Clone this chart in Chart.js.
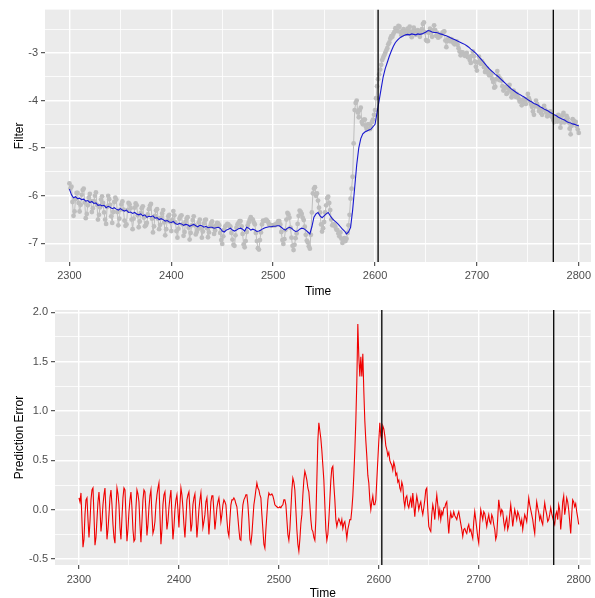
<!DOCTYPE html>
<html lang="en">
<head>
<meta charset="utf-8">
<title>Filter and prediction error</title>
<script src="https://cdn.jsdelivr.net/npm/chart.js"></script>
<style>
    html, body { margin: 0; padding: 0; background: #fff; overflow: hidden; }
    #top { position: absolute; left: 0; top: 0; }
    #bottom { position: absolute; left: 0; top: 300px; }
</style>
</head>
<body>
<canvas id="top" width="595" height="300"></canvas>
<canvas id="bottom" width="595" height="305"></canvas>

<script>
    // all series start at time 2300 and end at 2800
    var tStart = 2300;
    var rawStep = 1;   // observed: every time unit
    var filtStep = 2;  // filter: every 2 units
    var errStep = 1;   // prediction error: every time unit

    // observed series (grey dots)
    var raw = [
        -5.74, -5.84, -5.81, -6.13, -6.42, -6.33, -6.07, -5.94, -5.94, -6.15,
        -6.33, -6.19, -5.98, -5.88, -5.85, -6.14, -6.47, -6.38, -6.20, -6.04,
        -5.96, -6.11, -6.34, -6.26, -6.11, -6.00, -5.93, -6.19, -6.50, -6.40,
        -6.24, -6.08, -6.01, -6.15, -6.35, -6.50, -6.59, -6.23, -6.00, -6.07,
        -6.19, -6.43, -6.57, -6.34, -6.13, -6.04, -6.08, -6.34, -6.62, -6.48,
        -6.29, -6.18, -6.12, -6.29, -6.52, -6.63, -6.60, -6.30, -6.15, -6.18,
        -6.26, -6.50, -6.70, -6.48, -6.25, -6.16, -6.20, -6.41, -6.66, -6.54,
        -6.36, -6.26, -6.22, -6.46, -6.64, -6.62, -6.57, -6.39, -6.28, -6.21,
        -6.17, -6.48, -6.77, -6.64, -6.42, -6.31, -6.28, -6.48, -6.70, -6.61,
        -6.46, -6.37, -6.30, -6.56, -6.83, -6.70, -6.52, -6.43, -6.40, -6.55,
        -6.74, -6.50, -6.32, -6.41, -6.56, -6.74, -6.88, -6.69, -6.48, -6.43,
        -6.41, -6.60, -6.84, -6.76, -6.55, -6.48, -6.45, -6.67, -6.92, -6.78,
        -6.62, -6.51, -6.43, -6.62, -6.81, -6.76, -6.70, -6.56, -6.50, -6.68,
        -6.88, -6.75, -6.58, -6.51, -6.50, -6.68, -6.87, -6.77, -6.64, -6.58,
        -6.54, -6.65, -6.80, -6.73, -6.62, -6.57, -6.58, -6.62, -6.78, -6.93,
        -7.01, -6.85, -6.71, -6.64, -6.62, -6.59, -6.60, -6.63, -6.65, -6.78,
        -6.92, -7.03, -7.05, -6.83, -6.67, -6.60, -6.57, -6.53, -6.53, -6.64,
        -6.80, -7.02, -7.08, -6.95, -6.76, -6.62, -6.56, -6.50, -6.45, -6.49,
        -6.50, -6.56, -6.60, -6.78, -6.95, -7.10, -7.13, -6.93, -6.77, -6.60,
        -6.52, -6.53, -6.52, -6.50, -6.52, -6.55, -6.60, -6.61, -6.62, -6.62,
        -6.62, -6.61, -6.62, -6.59, -6.58, -6.53, -6.53, -6.60, -6.76, -6.93,
        -7.01, -6.91, -6.72, -6.50, -6.36, -6.39, -6.46, -6.67, -6.88, -7.05,
        -7.14, -7.03, -6.89, -6.79, -6.59, -6.42, -6.31, -6.34, -6.38, -6.46,
        -6.51, -6.65, -6.82, -6.94, -6.98, -7.06, -7.11, -6.82, -6.35, -5.95,
        -5.85, -5.82, -6.00, -5.95, -6.10, -6.25, -6.35, -6.60, -6.75, -6.68,
        -6.55, -6.35, -6.20, -6.05, -6.02, -6.15, -6.30, -6.50, -6.62, -6.60,
        -6.61, -6.65, -6.71, -6.72, -6.79, -6.85, -6.77, -6.90, -6.99, -6.92,
        -6.89, -6.95, -6.90, -6.78, -6.62, -6.40, -6.06, -5.85, -5.60, -4.90,
        -4.20, -4.05, -4.00, -4.25, -4.35, -4.20, -4.15, -4.45, -4.50, -4.40,
        -4.40, -4.55, -4.60, -4.50, -4.50, -4.60, -4.55, -4.45, -4.40, -4.30,
        -4.20, -3.95, -3.70, -3.55, -3.45, -3.35, -3.25, -3.15, -3.10, -3.05,
        -3.00, -2.95, -2.90, -2.82, -2.78, -2.70, -2.65, -2.66, -2.60, -2.56,
        -2.48, -2.53, -2.54, -2.43, -2.45, -2.57, -2.63, -2.53, -2.50, -2.58,
        -2.60, -2.53, -2.49, -2.60, -2.45, -2.56, -2.67, -2.55, -2.47, -2.53,
        -2.62, -2.56, -2.52, -2.60, -2.66, -2.58, -2.50, -2.39, -2.36, -2.57,
        -2.73, -2.75, -2.75, -2.58, -2.49, -2.55, -2.66, -2.52, -2.42, -2.52,
        -2.64, -2.58, -2.68, -2.63, -2.65, -2.60, -2.59, -2.56, -2.55, -2.74,
        -2.88, -2.75, -2.69, -2.75, -2.75, -2.71, -2.76, -2.79, -2.82, -2.78,
        -2.76, -2.83, -2.90, -2.97, -3.05, -2.99, -2.99, -3.03, -3.06, -3.02,
        -3.00, -3.09, -3.08, -3.15, -3.21, -3.06, -2.97, -3.07, -3.18, -3.29,
        -3.37, -3.20, -3.08, -3.15, -3.23, -3.18, -3.22, -3.30, -3.40, -3.36,
        -3.33, -3.42, -3.47, -3.40, -3.45, -3.54, -3.61, -3.73, -3.71, -3.55,
        -3.38, -3.48, -3.57, -3.54, -3.58, -3.70, -3.79, -3.74, -3.72, -3.86,
        -3.84, -3.75, -3.67, -3.79, -3.93, -3.86, -3.79, -3.86, -3.92, -3.86,
        -3.90, -3.96, -4.02, -3.99, -4.10, -4.03, -3.97, -4.02, -4.07, -3.97,
        -3.86, -3.95, -4.01, -4.07, -4.13, -4.23, -4.30, -4.12, -4.00, -4.07,
        -4.13, -4.22, -4.19, -4.26, -4.30, -4.19, -4.11, -4.19, -4.25, -4.33,
        -4.32, -4.29, -4.23, -4.30, -4.35, -4.41, -4.45, -4.36, -4.34, -4.44,
        -4.30, -4.36, -4.57, -4.46, -4.31, -4.26, -4.46, -4.41, -4.32, -4.37,
        -4.46, -4.59, -4.71, -4.53, -4.39, -4.42, -4.47, -4.45, -4.54, -4.61,
        -4.68
    ];

    // filtered estimate (blue line)
    var filt = [
        -5.86, -5.98, -6.04, -6.02, -6.06, -6.05, -6.08, -6.07, -6.11, -6.10,
        -6.14, -6.12, -6.16, -6.15, -6.20, -6.19, -6.21, -6.20, -6.25, -6.22,
        -6.24, -6.27, -6.25, -6.28, -6.30, -6.27, -6.30, -6.32, -6.30, -6.35,
        -6.34, -6.37, -6.35, -6.38, -6.40, -6.38, -6.42, -6.40, -6.45, -6.43,
        -6.44, -6.42, -6.47, -6.46, -6.50, -6.48, -6.50, -6.53, -6.52, -6.55,
        -6.56, -6.54, -6.58, -6.60, -6.58, -6.59, -6.62, -6.60, -6.61, -6.64,
        -6.62, -6.60, -6.63, -6.65, -6.62, -6.63, -6.66, -6.64, -6.67, -6.66,
        -6.66, -6.68, -6.67, -6.66, -6.68, -6.74, -6.76, -6.72, -6.70, -6.68,
        -6.72, -6.74, -6.72, -6.69, -6.68, -6.70, -6.74, -6.66, -6.68, -6.72,
        -6.70, -6.72, -6.75, -6.74, -6.72, -6.69, -6.67, -6.66, -6.65, -6.65,
        -6.64, -6.64, -6.63, -6.63, -6.66, -6.70, -6.72, -6.68, -6.66, -6.68,
        -6.72, -6.75, -6.74, -6.70, -6.68, -6.69, -6.72, -6.76, -6.80, -6.65,
        -6.45, -6.38, -6.35, -6.42, -6.46, -6.42, -6.38, -6.35, -6.42, -6.48,
        -6.52, -6.56, -6.60, -6.65, -6.70, -6.74, -6.80, -6.76, -6.66, -6.30,
        -5.83, -5.35, -5.00, -4.80, -4.70, -4.66, -4.64, -4.62, -4.60, -4.55,
        -4.50, -4.25, -4.00, -3.75, -3.50, -3.33, -3.20, -3.07, -2.96, -2.86,
        -2.78, -2.73, -2.69, -2.66, -2.64, -2.62, -2.61, -2.62, -2.60, -2.61,
        -2.62, -2.60, -2.61, -2.60, -2.58, -2.56, -2.53, -2.54, -2.56, -2.57,
        -2.57, -2.58, -2.60, -2.61, -2.63, -2.64, -2.66, -2.68, -2.70, -2.72,
        -2.74, -2.76, -2.78, -2.80, -2.82, -2.85, -2.88, -2.92, -2.95, -2.99,
        -3.03, -3.08, -3.13, -3.18, -3.23, -3.28, -3.33, -3.37, -3.41, -3.45,
        -3.48, -3.52, -3.56, -3.60, -3.64, -3.68, -3.72, -3.76, -3.79, -3.82,
        -3.85, -3.87, -3.90, -3.92, -3.95, -3.98, -4.01, -4.03, -4.06, -4.08,
        -4.10, -4.13, -4.15, -4.18, -4.20, -4.22, -4.25, -4.27, -4.30, -4.32,
        -4.35, -4.37, -4.39, -4.41, -4.44, -4.46, -4.47, -4.49, -4.50, -4.52,
        -4.53
    ];

    // one-step prediction error (red line)
    var predErr = [
        0.12, 0.08, 0.17, -0.12, -0.38, -0.30, -0.05, 0.10, 0.12, -0.10,
        -0.28, -0.12, 0.10, 0.20, 0.22, -0.05, -0.36, -0.28, -0.10, 0.08,
        0.18, 0.02, -0.22, -0.12, 0.05, 0.15, 0.22, -0.02, -0.30, -0.20,
        -0.05, 0.12, 0.20, 0.05, -0.15, -0.28, -0.34, 0.00, 0.22, 0.16,
        0.05, -0.18, -0.30, -0.08, 0.12, 0.22, 0.20, -0.05, -0.32, -0.20,
        -0.02, 0.10, 0.18, 0.02, -0.20, -0.32, -0.30, 0.02, 0.20, 0.16,
        0.08, -0.15, -0.33, -0.12, 0.10, 0.20, 0.18, -0.02, -0.26, -0.15,
        0.02, 0.14, 0.20, -0.05, -0.24, -0.20, -0.12, 0.05, 0.15, 0.22,
        0.27, -0.05, -0.35, -0.20, 0.05, 0.15, 0.18, 0.00, -0.20, -0.12,
        0.02, 0.12, 0.20, -0.05, -0.30, -0.18, 0.00, 0.10, 0.15, 0.00,
        -0.18, 0.05, 0.22, 0.15, 0.02, -0.15, -0.28, -0.10, 0.10, 0.15,
        0.18, 0.00, -0.22, -0.15, 0.05, 0.12, 0.16, -0.05, -0.28, -0.15,
        0.00, 0.10, 0.17, 0.00, -0.18, -0.12, -0.05, 0.08, 0.12, -0.05,
        -0.25, -0.10, 0.08, 0.14, 0.14, -0.02, -0.20, -0.10, 0.02, 0.08,
        0.12, 0.02, -0.12, -0.05, 0.05, 0.10, 0.08, 0.05, -0.10, -0.22,
        -0.27, -0.10, 0.05, 0.10, 0.10, 0.12, 0.10, 0.06, 0.03, -0.08,
        -0.20, -0.30, -0.31, -0.10, 0.05, 0.10, 0.12, 0.15, 0.15, 0.05,
        -0.10, -0.30, -0.34, -0.25, -0.10, 0.05, 0.12, 0.20, 0.27, 0.22,
        0.20, 0.15, 0.12, -0.05, -0.20, -0.35, -0.39, -0.20, -0.05, 0.10,
        0.17, 0.15, 0.15, 0.16, 0.14, 0.10, 0.05, 0.04, 0.03, 0.02,
        0.02, 0.03, 0.02, 0.04, 0.05, 0.10, 0.10, 0.05, -0.10, -0.25,
        -0.31, -0.20, 0.00, 0.20, 0.32, 0.28, 0.20, 0.00, -0.20, -0.35,
        -0.42, -0.30, -0.14, -0.05, 0.15, 0.30, 0.39, 0.35, 0.30, 0.22,
        0.18, 0.05, -0.10, -0.20, -0.22, -0.28, -0.31, -0.10, 0.30, 0.70,
        0.88, 0.80, 0.72, 0.60, 0.45, 0.30, 0.05, -0.20, -0.31, -0.25,
        -0.10, 0.10, 0.30, 0.42, 0.44, 0.25, 0.10, -0.10, -0.17, -0.12,
        -0.09, -0.12, -0.15, -0.10, -0.19, -0.14, -0.12, -0.20, -0.29, -0.20,
        -0.15, -0.10, -0.10, 0.00, 0.14, 0.35, 0.60, 0.90, 1.30, 1.88,
        1.55, 1.35, 1.55, 1.35, 1.58, 1.20, 0.90, 0.70, 0.54, 0.35,
        0.27, 0.10, 0.00, 0.08, 0.14, 0.05, 0.05, 0.10, 0.30, 0.50,
        0.70, 0.88, 0.75, 0.70, 0.85, 0.82, 0.75, 0.65, 0.61, 0.55,
        0.58, 0.50, 0.47, 0.45, 0.40, 0.48, 0.44, 0.35, 0.37, 0.28,
        0.30, 0.22, 0.19, 0.28, 0.24, 0.10, 0.03, 0.12, 0.14, 0.05,
        0.02, 0.08, 0.12, 0.02, 0.17, 0.05, -0.07, 0.05, 0.14, 0.08,
        0.00, 0.05, 0.08, 0.00, -0.05, 0.02, 0.10, 0.20, 0.22, 0.00,
        -0.17, -0.20, -0.22, -0.05, 0.05, 0.00, -0.10, 0.05, 0.15, 0.05,
        -0.07, 0.00, -0.10, -0.02, -0.05, 0.02, 0.02, 0.06, 0.08, -0.10,
        -0.24, -0.10, -0.03, -0.08, -0.07, -0.02, -0.06, -0.08, -0.10, -0.05,
        -0.02, -0.08, -0.14, -0.20, -0.27, -0.20, -0.19, -0.22, -0.24, -0.18,
        -0.15, -0.22, -0.20, -0.25, -0.29, -0.12, -0.02, -0.10, -0.19, -0.28,
        -0.34, -0.15, 0.00, -0.05, -0.10, -0.02, -0.04, -0.10, -0.17, -0.10,
        -0.05, -0.12, -0.14, -0.05, -0.08, -0.15, -0.20, -0.30, -0.26, -0.08,
        0.10, 0.02, -0.05, 0.00, -0.02, -0.12, -0.19, -0.12, -0.08, -0.20,
        -0.16, -0.05, 0.05, -0.05, -0.17, -0.08, 0.00, -0.05, -0.10, -0.02,
        -0.05, -0.10, -0.15, -0.10, -0.20, -0.12, -0.05, -0.08, -0.12, 0.00,
        0.12, 0.05, 0.00, -0.05, -0.10, -0.18, -0.24, -0.05, 0.08, 0.02,
        -0.03, -0.10, -0.06, -0.12, -0.15, -0.02, 0.07, 0.00, -0.05, -0.12,
        -0.10, -0.05, 0.02, -0.04, -0.08, -0.12, -0.15, -0.05, -0.02, -0.10,
        0.05, 0.00, -0.20, -0.08, 0.08, 0.14, -0.05, 0.02, 0.12, 0.08,
        0.00, -0.12, -0.24, -0.05, 0.10, 0.08, 0.03, 0.06, -0.02, -0.08,
        -0.15
    ];

    // vertical marker lines
    var markers = [2603, 2775];

    // axis ticks
    var timeTicks = [2300, 2400, 2500, 2600, 2700, 2800];
    var filtTicks = [-7, -6, -5, -4, -3];
    var errTicks = [-0.5, 0, 0.5, 1, 1.5, 2];

    function pts(values, step) {
        return values.map(function(v, i) { return {x: tStart + i * step, y: v}; });
    }

    Chart.defaults.font.family = "'Liberation Sans', Arial, sans-serif";
    Chart.defaults.animation = false;

    // grey ggplot panel behind the plot area
    var panelBg = {
        id: 'panelBg',
        beforeDraw: function(chart) {
            var a = chart.chartArea;
            var ctx = chart.ctx;
            ctx.save();
            ctx.fillStyle = '#ebebeb';
            ctx.fillRect(a.left, a.top, a.right - a.left, a.bottom - a.top);
            ctx.restore();
        }
    };

    // major ticks plus minor ones halfway between (for the thinner grid lines)
    function withMinor(major, min, max) {
        var step = major[1] - major[0];
        var out = [];
        out.push({value: major[0] - step / 2, minor: true});
        major.forEach(function(m) {
            out.push({value: m});
            out.push({value: m + step / 2, minor: true});
        });
        return out.filter(function(t) { return t.value >= min && t.value <= max; });
    }

    var gridOpts = {
        color: '#ffffff',
        lineWidth: function(c) { return c.tick && c.tick.minor ? 0.8 : 1.4; },
        tickColor: function(c) { return c.tick && c.tick.minor ? 'rgba(0,0,0,0)' : '#333333'; },
        tickWidth: 1,
        tickLength: 4
    };

    function labelFn(fmt) {
        return function(value, index, ticks) {
            return ticks[index].minor ? '' : fmt(value);
        };
    }

    function makeOptions(cfg) {
        return {
            responsive: false,
            events: [],
            layout: { padding: { top: cfg.padTop, right: 3, left: 0, bottom: 0 } },
            plugins: { legend: { display: false }, tooltip: { enabled: false } },
            scales: {
                x: {
                    type: 'linear',
                    min: 2276,
                    max: 2812,
                    afterBuildTicks: function(s) { s.ticks = withMinor(timeTicks, s.min, s.max); },
                    afterFit: function(s) { s.height = cfg.xHeight; },
                    border: { display: false },
                    grid: gridOpts,
                    ticks: {
                        autoSkip: false,
                        maxRotation: 0,
                        padding: cfg.xPad,
                        color: '#4d4d4d',
                        font: { size: 11 },
                        callback: labelFn(function(v) { return String(v); })
                    },
                    title: {
                        display: true,
                        text: 'Time',
                        color: '#000000',
                        font: { size: 12 },
                        padding: { top: 0, bottom: cfg.timePad }
                    }
                },
                y: {
                    type: 'linear',
                    min: cfg.yMin,
                    max: cfg.yMax,
                    afterBuildTicks: function(s) { s.ticks = withMinor(cfg.yTicks, s.min, s.max); },
                    afterFit: function(s) { s.width = cfg.yWidth; },
                    border: { display: false },
                    grid: gridOpts,
                    ticks: {
                        padding: 3,
                        color: '#4d4d4d',
                        font: { size: 11 },
                        callback: labelFn(cfg.yFmt)
                    },
                    title: {
                        display: true,
                        text: cfg.yTitle,
                        color: '#000000',
                        font: { size: 12 },
                        padding: { top: cfg.titlePad, bottom: 0 }
                    }
                }
            }
        };
    }

    function markerSets(yMin, yMax) {
        return markers.map(function(m) {
            return {
                data: [{x: m, y: yMin}, {x: m, y: yMax}],
                borderColor: '#000000',
                borderWidth: 1.3,
                pointRadius: 0,
                order: 0
            };
        });
    }

    var topY = [-7.39, -2.09];
    new Chart(document.getElementById('top'), {
        type: 'line',
        data: {
            datasets: markerSets(topY[0], topY[1]).concat([
                {
                    data: pts(filt, filtStep),
                    borderColor: '#1818d0',
                    borderWidth: 1.1,
                    pointRadius: 0,
                    order: 1
                },
                {
                    data: pts(raw, rawStep),
                    borderColor: '#bebebe',
                    borderWidth: 1,
                    pointRadius: 2.4,
                    pointBorderWidth: 0,
                    pointBackgroundColor: '#bebebe',
                    order: 2
                }
            ])
        },
        options: makeOptions({
            padTop: 7, xHeight: 38, xPad: 3, timePad: 1,
            yMin: topY[0], yMax: topY[1], yTicks: filtTicks, yWidth: 45,
            yTitle: 'Filter', titlePad: 12,
            yFmt: function(v) { return String(v); }
        }),
        plugins: [panelBg]
    });

    var errY = [-0.56, 2.023];
    new Chart(document.getElementById('bottom'), {
        type: 'line',
        data: {
            datasets: markerSets(errY[0], errY[1]).concat([
                {
                    data: pts(predErr, errStep),
                    borderColor: '#f00000',
                    borderWidth: 1.1,
                    pointRadius: 0,
                    order: 1
                }
            ])
        },
        options: makeOptions({
            padTop: 10, xHeight: 40, xPad: 4, timePad: 4,
            yMin: errY[0], yMax: errY[1], yTicks: errTicks, yWidth: 55,
            yTitle: 'Prediction Error', titlePad: 12,
            yFmt: function(v) { return v.toFixed(1); }
        }),
        plugins: [panelBg]
    });
</script>
</body>
</html>
